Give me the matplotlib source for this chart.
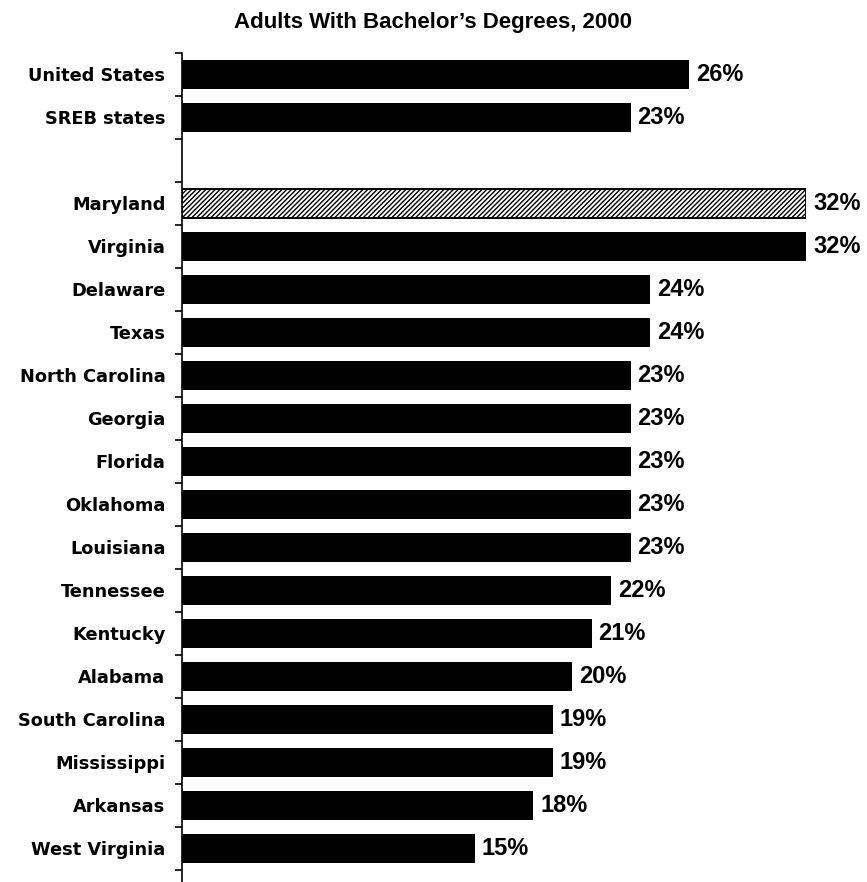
import numpy as np
import matplotlib.pyplot as plt

# 各州成人學士學位比例（2000 年），空字串代表分隔用的空列
states = ['United States', 'SREB states', '',
          'Maryland', 'Virginia', 'Delaware', 'Texas', 'North Carolina',
          'Georgia', 'Florida', 'Oklahoma', 'Louisiana', 'Tennessee',
          'Kentucky', 'Alabama', 'South Carolina', 'Mississippi',
          'Arkansas', 'West Virginia']
pct = [26, 23, None,
       32, 32, 24, 24, 23,
       23, 23, 23, 23, 22,
       21, 20, 19, 19,
       18, 15]
highlight = 'Maryland'

plt.rcParams['hatch.linewidth'] = 1.0

fig = plt.figure(figsize=(8.67, 8.82), dpi=100)
ax = fig.add_axes([0.210, 0.0, 0.720, 0.940])

ypos = np.arange(len(states))
for y, name, v in zip(ypos, states, pct):
    if v is None:
        continue
    if name == highlight:
        ax.barh(y, v, height=0.66, color='white', edgecolor='black',
                hatch='///////', linewidth=1.4)
    else:
        ax.barh(y, v, height=0.66, color='black')
    ax.text(v + 0.35, y, f'{v}%', ha='left', va='center',
            fontsize=17, fontweight='bold', family='Liberation Sans',
            clip_on=False)

ax.set_xlim(0, 32)
ax.set_ylim(18.78, -0.5)

# 類別名稱放在刻度之間，刻度線畫在分隔處
ax.set_yticks(ypos)
ax.set_yticklabels(states, fontsize=12.8, fontweight='bold')
ax.tick_params(axis='y', which='major', length=0, pad=12)
ax.set_yticks(np.arange(-0.5, len(states), 1.0), minor=True)
ax.tick_params(axis='y', which='minor', length=5, width=1.2, direction='out')

ax.set_xticks([])
for side in ['top', 'right', 'bottom']:
    ax.spines[side].set_visible(False)
ax.spines['left'].set_linewidth(1.2)

fig.text(0.50, 0.974, 'Adults With Bachelor\u2019s Degrees, 2000',
         ha='center', va='center', fontsize=16, fontweight='bold',
         family='Liberation Sans')

fig.savefig('out.png', dpi=100)
